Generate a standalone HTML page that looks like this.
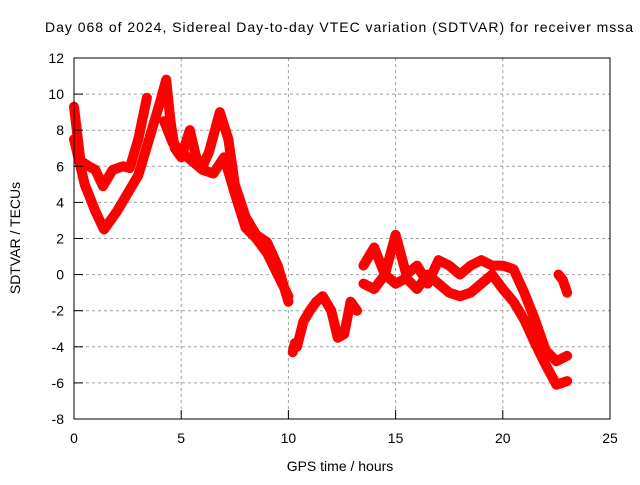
<!DOCTYPE html>
<html><head><meta charset="utf-8"><style>
body{margin:0;background:#fff;}
svg text{font-family:"Liberation Sans",sans-serif;font-size:14px;fill:#000;}
</style></head><body>
<svg id="chart" width="640" height="480" xmlns="http://www.w3.org/2000/svg">
<rect width="640" height="480" fill="#fff"/>
<text x="45" y="32" textLength="588" lengthAdjust="spacing">Day 068 of 2024, Sidereal Day-to-day VTEC variation (SDTVAR) for receiver mssa</text>
<g id="grid"></g>
<g id="series"></g>
<rect x="74" y="58" width="536" height="361" fill="none" stroke="#000" stroke-width="1"/>
<g id="axes"></g>
<text x="340" y="471" text-anchor="middle">GPS time / hours</text>
<text transform="translate(20,238) rotate(-90)" text-anchor="middle">SDTVAR / TECUs</text>
</svg>
<script>
const xTicks=[0,5,10,15,20,25];
const yTicks=[-8,-6,-4,-2,0,2,4,6,8,10,12];
const t1=[0,0.3,0.7,1.0,1.35,1.8,2.3,2.6,3.0,3.4];
const v1=[9.3,6.3,6,5.8,4.9,5.8,6,5.9,7.5,9.8];
const t2=[0,0.5,1.0,1.4,2.0,2.5,3.0,3.5,4.0,4.3,4.5,4.7,5.0,5.4,5.7,6.0,6.3,6.8,7.2,7.5,8.0,8.5,9.0,9.5,10.0];
const v2=[7.5,5,3.5,2.5,3.5,4.5,5.5,7.5,9.5,10.8,8.5,7,6.5,8,6.5,6,6.8,9,7.5,5,3.2,2.2,1.8,0.5,-1.5];
const t7=[4.2,4.6,5.0,5.5,6.0,6.5,7.0,7.5,8.0,8.5,9.0,9.5,10.0];
const v7=[8.5,7.3,6.8,6.3,5.8,5.6,6.5,4.5,2.6,2.0,1.2,0,-1.2];
const t3=[10.2,10.3,10.4,10.7,11.0,11.3,11.6,12.0,12.3,12.6,12.9,13.2];
const v3=[-4.3,-3.8,-4,-2.6,-2,-1.5,-1.2,-2,-3.5,-3.3,-1.5,-2];
const t4=[13.5,14,14.5,15,15.5,16,16.5,17,17.5,18,18.5,19,19.5,20,20.5,21,21.5,22,22.5,23];
const v4=[0.5,1.5,0,2.2,0,0.5,-0.5,0.8,0.5,0,0.5,0.8,0.5,0.5,0.3,-1,-2.5,-4.2,-4.8,-4.5];
const t5=[13.5,14,14.5,15,15.5,16,16.5,17,17.5,18,18.5,19,19.5,20,20.5,21,21.5,22,22.5,23];
const v5=[-0.5,-0.8,0,-0.5,-0.2,-0.8,0,-0.5,-1,-1.2,-1,-0.5,0,-0.8,-1.5,-2.5,-3.8,-5,-6.1,-5.9];
const t6=[22.6,22.8,23.0];
const v6=[0,-0.3,-1];
const ns="http://www.w3.org/2000/svg";
const X=t=>74+t*536/25, Y=v=>58+(12-v)*361/20;
const grid=document.getElementById('grid'), axes=document.getElementById('axes'), ser=document.getElementById('series');
function mk(tag,attrs,parent){const e=document.createElementNS(ns,tag);for(const k in attrs)e.setAttribute(k,attrs[k]);parent.appendChild(e);return e;}
xTicks.forEach(t=>{
 if(t>0&&t<25){const g=mk('line',{x1:X(t),x2:X(t),y1:58,y2:419,stroke:'#a0a0a0','stroke-dasharray':'3,3'},grid);
 
 }
 const tk=mk('line',{x1:X(t),x2:X(t),y1:419,y2:410,stroke:'#000'},axes);
 
 
 const lb=mk('text',{x:X(t),y:443,'text-anchor':'middle'},axes);lb.textContent=t;
 
 
});
yTicks.forEach(v=>{
 if(v>-8&&v<12){const g=mk('line',{x1:74,x2:610,y1:Y(v),y2:Y(v),stroke:'#a0a0a0','stroke-dasharray':'3,3'},grid);
 
 }
 const tk=mk('line',{x1:74,x2:83,y1:Y(v),y2:Y(v),stroke:'#000'},axes);
 
 
 const lb=mk('text',{x:64,y:Y(v)+5,'text-anchor':'end'},axes);lb.textContent=v;
 
 
});
[[t1,v1],[t2,v2],[t7,v7],[t3,v3],[t4,v4],[t5,v5],[t6,v6]].forEach(([ts,vs],i)=>{
 const pts=ts.map((t,j)=>X(t)+','+Y(vs[j])).join(' ');
 const pl=mk('polyline',{points:pts,fill:'none',stroke:'#f00','stroke-width':10,'stroke-linejoin':'round','stroke-linecap':'round'},ser);
 
 
 ts.forEach((t,j)=>{
  const m=mk('path',{d:`M${X(t)-4},${Y(vs[j])}h8M${X(t)},${Y(vs[j])-4}v8`,stroke:'#f00','stroke-width':1.5},ser);
  
  
 });
});
</script>
</body></html>
